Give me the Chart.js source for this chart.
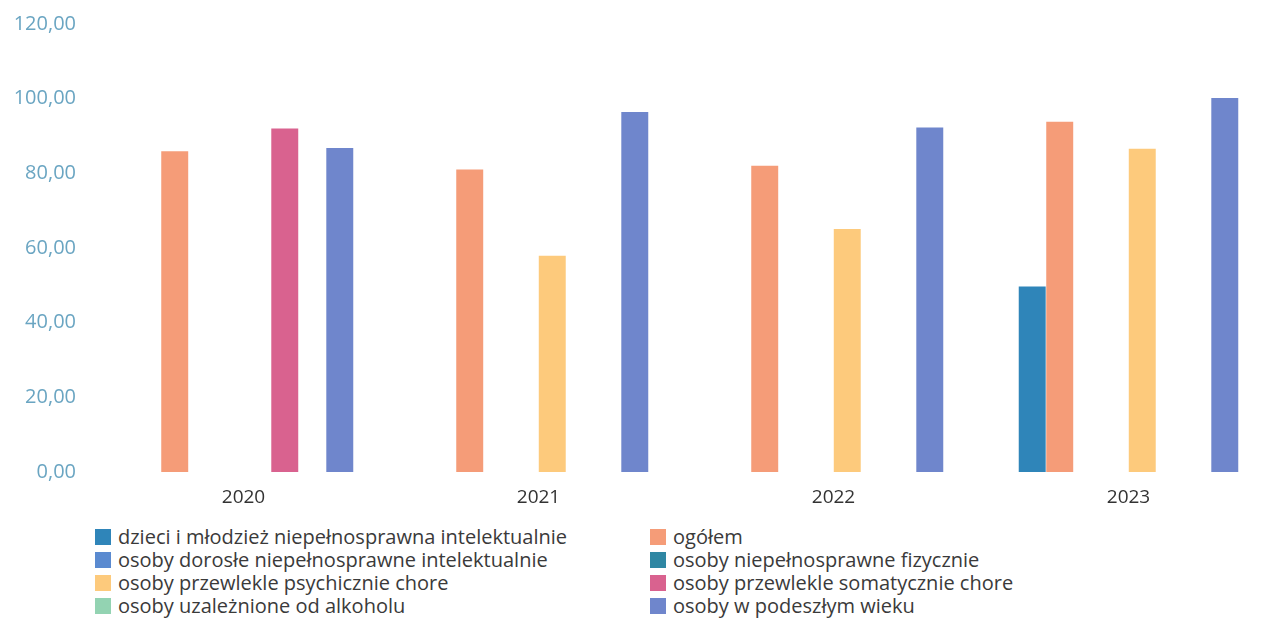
<!DOCTYPE html>
<html lang="pl">
<head>
<meta charset="utf-8">
<script src="https://cdn.jsdelivr.net/npm/chart.js@4"></script>
<style>
    html, body { margin: 0; padding: 0; background: #fff; overflow: hidden; }
    #wrap { position: relative; width: 1267px; height: 618px; overflow: hidden; }
    #chartBox { position: absolute; left: 0; top: 0; width: 1277px; height: 511px; }
    #legend {
        position: absolute; left: 95px; top: 525px;
        display: grid; grid-template-columns: 555px 500px;
        font-family: 'Open Sans', sans-serif; font-size: 20px; color: #3a3a3a;
    }
    .item { display: flex; align-items: center; height: 23px; white-space: nowrap; }
    .box { width: 16px; height: 16px; margin-right: 7px; flex: none; }
</style>
</head>
<body>
<div id="wrap">
    <div id="chartBox"><canvas id="myChart"></canvas></div>
    <div id="legend"></div>
</div>
<script>
const years = ['2020', '2021', '2022', '2023'];
const yTicks = [0, 20, 40, 60, 80, 100, 120];

const seriesLabels = [
    'dzieci i młodzież niepełnosprawna intelektualnie',
    'ogółem',
    'osoby dorosłe niepełnosprawne intelektualnie',
    'osoby niepełnosprawne fizycznie',
    'osoby przewlekle psychicznie chore',
    'osoby przewlekle somatycznie chore',
    'osoby uzależnione od alkoholu',
    'osoby w podeszłym wieku'
];
const seriesColors = ['#2f85b9', '#f59c78', '#5a8ad0', '#2f87a3', '#fdca7c', '#d9628f', '#93d3b2', '#6f86cc'];

// values per series, one per year (null = no bar)
const dzieci = [null, null, null, 49.7];
const ogolem = [85.9, 81.0, 82.0, 93.8];
const dorosle = [null, null, null, null];
const fizycznie = [null, null, null, null];
const psychicznie = [null, 57.9, 65.1, 86.6];
const somatycznie = [92.0, null, null, null];
const alkohol = [null, null, null, null];
const wieku = [86.8, 96.4, 92.3, 100.2];

const seriesValues = [dzieci, ogolem, dorosle, fizycznie, psychicznie, somatycznie, alkohol, wieku];

const datasets = seriesLabels.map((label, i) => ({
    label: label,
    data: seriesValues[i],
    backgroundColor: seriesColors[i],
    borderWidth: 0,
    categoryPercentage: 0.746,
    barPercentage: 0.98
}));

// Build legend in two columns
const legendEl = document.getElementById('legend');
seriesLabels.forEach((label, i) => {
    const item = document.createElement('div');
    item.className = 'item';
    const box = document.createElement('span');
    box.className = 'box';
    box.style.background = seriesColors[i];
    const txt = document.createElement('span');
    txt.textContent = label;
    item.appendChild(box);
    item.appendChild(txt);
    legendEl.appendChild(item);
});

const ctx = document.getElementById('myChart').getContext('2d');
const myChart = new Chart(ctx, {
    type: 'bar',
    data: {
        labels: years,
        datasets: datasets
    },
    options: {
        responsive: true,
        maintainAspectRatio: false,
        animation: false,
        layout: { padding: { top: 14, right: 1, left: 0, bottom: 0 } },
        scales: {
            x: {
                grid: { display: false },
                border: { display: false },
                ticks: {
                    color: '#333',
                    padding: 6,
                    font: { family: 'Open Sans', size: 19 }
                },
                afterFit: scale => { scale.height = 39; }
            },
            y: {
                min: 0,
                max: 120,
                afterBuildTicks: scale => { scale.ticks = yTicks.map(v => ({ value: v })); },
                grid: { display: false },
                border: { display: false },
                ticks: {
                    color: '#6aa5c2',
                    padding: 12,
                    font: { family: 'Open Sans', size: 20 },
                    callback: v => v.toFixed(2).replace('.', ',')
                },
                afterFit: scale => { scale.width = 96; }
            }
        },
        plugins: {
            legend: { display: false },
            tooltip: { enabled: false }
        }
    }
});
</script>
</body>
</html>
